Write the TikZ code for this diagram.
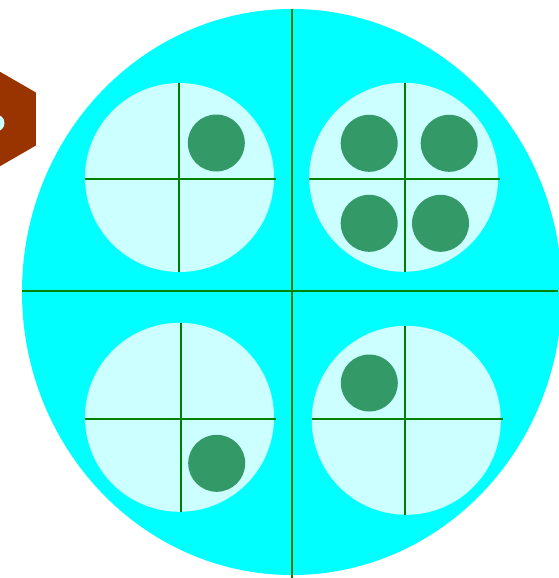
\documentclass[tikz,border=0pt]{standalone}
\definecolor{DishCyan}{HTML}{00FFFF}
\definecolor{WellCyan}{HTML}{CCFFFF}
\definecolor{CrossGreen}{HTML}{008000}
\definecolor{DotGreen}{HTML}{339966}
\definecolor{HexBrown}{HTML}{993300}
\usetikzlibrary{shapes.geometric}
\begin{document}
\begin{tikzpicture}[x=1pt, y=-1pt,
    well/.style={circle, fill=WellCyan, minimum size=189pt, inner sep=0pt},
    dot/.style={circle, fill=DotGreen, minimum size=57pt, inner sep=0pt},
    cross/.style={draw=CrossGreen, line width=2.2pt}]
    \useasboundingbox (0,0) rectangle (558,578);
    \node[regular polygon, regular polygon sides=6, shape border rotate=30, fill=HexBrown,
      minimum size=106pt, inner sep=0pt] (hex) at (-10,119) {};
    \node[circle, fill=WellCyan, minimum size=17pt, inner sep=0pt] (hexhole) at (-4,123) {};
    \node[ellipse, fill=DishCyan, minimum width=540pt, minimum height=566pt, inner sep=0pt] (dish) at (292,292) {};
    \coordinate (dishbottom) at (292,578);
    \coordinate (dishright) at (558,291);
    \draw[cross] (dish.north) -- (dishbottom);
    \draw[cross] (dish.west |- dishright) -- (dishright);
    \node[well] (tl) at (179.5,177.5) {};
    \node[well] (tr) at (403.7,177.3) {};
    \node[well] (bl) at (179.5,417.3) {};
    \node[well] (br) at (406.3,420.3) {};
    \foreach \w/\dx/\dy in {tl/-0.8/1.2, tr/1.3/1.7, bl/1.5/1.7, br/-1.3/-1.6} {
      \draw[cross] ([xshift=\dx pt]\w.north) -- ([xshift=\dx pt]\w.south);
      \draw[cross] ([yshift=-\dy pt]\w.west) -- ([xshift=2pt,yshift=-\dy pt]\w.east);
    }
    \node[dot] (tldot) at (216.3,143) {};
    \node[dot] (trdota) at (369.2,143.3) {};
    \node[dot] (trdotb) at (449.2,143.3) {};
    \node[dot] (trdotc) at (369.2,223.3) {};
    \node[dot] (trdotd) at (440.5,223.3) {};
    \node[dot] (bldot) at (216.7,463.3) {};
    \node[dot] (brdot) at (369.3,383) {};
  \end{tikzpicture}
\end{document}
